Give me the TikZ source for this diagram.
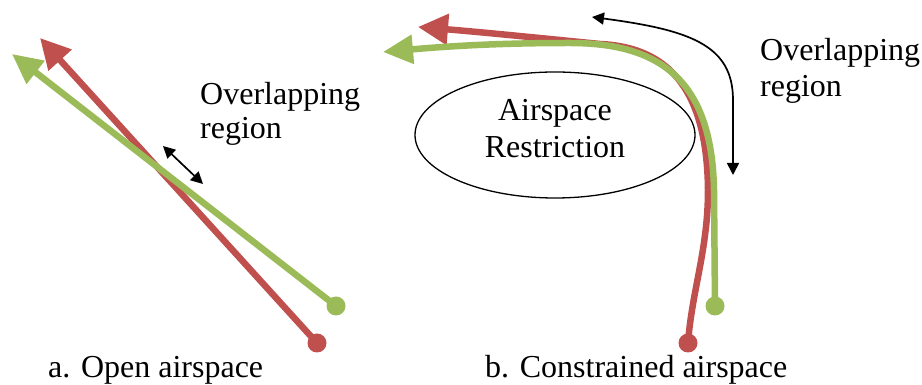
\documentclass[tikz,border=0pt]{standalone}
\usepackage{fontspec}
\setmainfont{Liberation Serif}
\usetikzlibrary{arrows.meta,shapes.geometric}
\definecolor{cred}{HTML}{C0504D}
\definecolor{cgreen}{HTML}{9BBB59}
\tikzset{
  redline/.style={draw=cred, line width=6.5pt, -{Triangle[length=30pt,width=30pt]}},
  greenline/.style={draw=cgreen, line width=6.5pt, -{Triangle[length=30pt,width=28pt]}},
  reddot/.style={circle, fill=cred, minimum size=19pt, inner sep=0pt},
  greendot/.style={circle, fill=cgreen, minimum size=19pt, inner sep=0pt},
  thinarrow/.style={draw=black, line width=1.7pt, {Triangle[length=12pt,width=12pt]}-{Triangle[length=12pt,width=12pt]}},
  lbl/.style={font=\fontsize{32}{37}\selectfont, inner sep=0pt},
  restrict/.style={ellipse, draw=black, line width=1.3pt, minimum width=280pt, minimum height=126pt, inner sep=0pt}
}
\begin{document}
\begin{tikzpicture}[x=1pt,y=1pt]
\useasboundingbox (0,0) rectangle (922,385);
% ---- panel a ----
\node[reddot] (ra) at (317,42) {};
\node[greendot] (ga) at (336,79) {};
\coordinate (rat) at (40,347);
\coordinate (gat) at (12,331);
\draw[redline] (ra.center) -- (rat);
\draw[greenline] (ga.center) -- (gat);
\coordinate (oa1) at (163,239);
\coordinate (oa2) at (203,201);
\draw[thinarrow] (oa1) -- (oa2);
\node[lbl, anchor=base west] (la1) at (200,280) {Overlapping};
\node[lbl, anchor=base west] (la2) at (200,246) {region};
\node[lbl, anchor=base west] (capa) at (48,7.5) {a. Open airspace};
% ---- panel b ----
\node[restrict] (ell) at (555,250) {};
\node[lbl, align=center] (etext) at (555,256) {Airspace\\Restriction};
\node[reddot] (rb) at (688,42) {};
\node[greendot] (gb) at (715,79) {};
\coordinate (rbt) at (418,358);
\coordinate (gbt) at (383,333);
\draw[redline] (rb.center) .. controls (692,95) and (708,135) .. (708,195)
  .. controls (707,300) and (665,338) .. (600,341)
  .. controls (550,346) and (480,353) .. (rbt);
\draw[greenline] (gb.center) -- (714,195) .. controls (712,305) and (660,342) .. (570,342)
  .. controls (500,342) and (450,339) .. (gbt);
\coordinate (ob1) at (592,368);
\coordinate (ob2) at (733,210);
\draw[thinarrow] (ob1) .. controls (690,355) and (733,340) .. (733,285) -- (ob2);
\node[lbl, anchor=base west] (lb1) at (760,324) {Overlapping};
\node[lbl, anchor=base west] (lb2) at (760,288) {region};
\node[lbl, anchor=base west] (capb) at (485,7.5) {b. Constrained airspace};
\end{tikzpicture}
\end{document}
